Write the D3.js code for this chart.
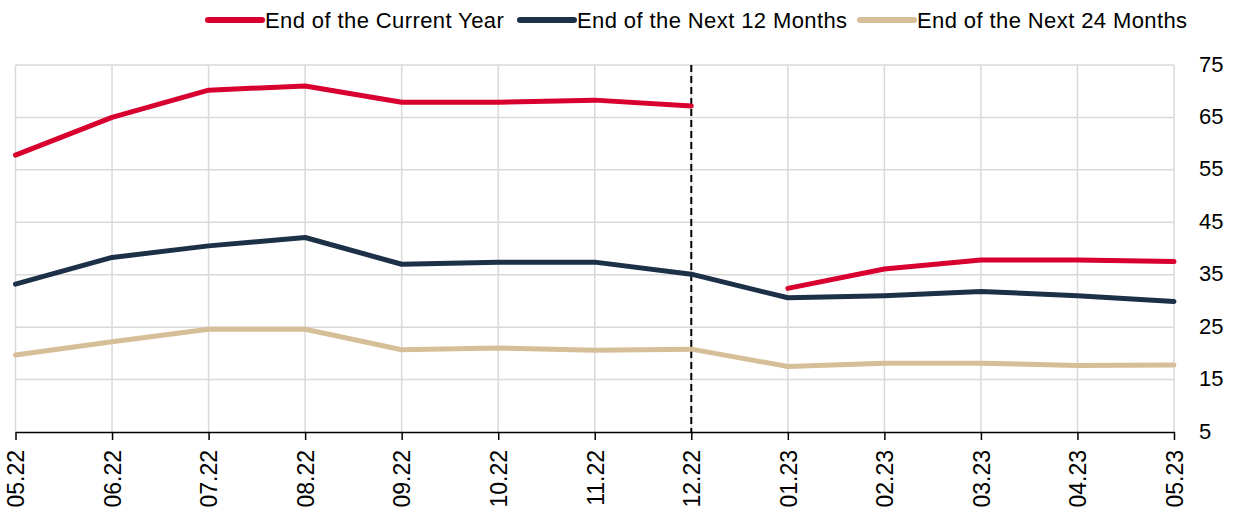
<!DOCTYPE html>
<html>
  <head>
    <title>Expectations</title>
    <script src="https://d3js.org/d3.v7.min.js"></script>
    <style>
      body { margin: 0; background: #fff; }
      text { font-family: "Liberation Sans", Arial, sans-serif; fill: #000; }
    </style>
  </head>
  <body>
    <svg id="chart" width="1236" height="516"></svg>
    <script>
      // data
      var months = ["05.22","06.22","07.22","08.22","09.22","10.22","11.22","12.22","01.23","02.23","03.23","04.23","05.23"];
      var currentYear = [57.8, 65.0, 70.2, 71.0, 67.9, 67.9, 68.3, 67.2, 32.4, 36.1, 37.8, 37.8, 37.5];
      var next12 = [33.2, 38.3, 40.5, 42.1, 37.0, 37.4, 37.4, 35.1, 30.6, 31.0, 31.8, 31.0, 29.9];
      var next24 = [19.7, 22.2, 24.6, 24.6, 20.7, 21.0, 20.6, 20.8, 17.5, 18.1, 18.1, 17.7, 17.8];
      var yTicks = [5, 15, 25, 35, 45, 55, 65, 75];
      var seriesNames = ["End of the Current Year", "End of the Next 12 Months", "End of the Next 24 Months"];
      var colors = ["#d7002f", "#1c3048", "#d6bf98"];
      var breakAfter = "12.22"; // current year series restarts in january

      var svg = d3.select("#chart");
      var plotLeft = 15.5, plotRight = 1174, plotTop = 65, plotBottom = 432;

      var x = d3.scalePoint().domain(months).range([plotLeft, plotRight]);
      var y = d3.scaleLinear().domain([5, 75]).range([plotBottom, plotTop]);

      // grid
      svg.append("g")
        .selectAll("line")
        .data(months)
        .enter().append("line")
        .attr("x1", d => x(d)).attr("x2", d => x(d))
        .attr("y1", plotTop).attr("y2", plotBottom)
        .style("stroke", "#d9d9d9").style("stroke-width", "1.5px");

      svg.append("g")
        .selectAll("line")
        .data(yTicks.filter(d => d > 5))
        .enter().append("line")
        .attr("x1", plotLeft).attr("x2", plotRight)
        .attr("y1", d => y(d)).attr("y2", d => y(d))
        .style("stroke", "#d9d9d9").style("stroke-width", "1.5px");

      // x axis
      var xAxis = svg.append("g")
        .attr("transform", "translate(0," + plotBottom + ")")
        .call(d3.axisBottom(x).tickSize(8).tickSizeOuter(0));
      xAxis.select(".domain").style("stroke", "#000").style("stroke-width", "1.5px");
      xAxis.selectAll(".tick line").style("stroke", "#000").style("stroke-width", "1.5px");
      xAxis.selectAll(".tick text")
        .attr("transform", "rotate(-90)")
        .attr("x", -18).attr("y", 0).attr("dy", "0.36em")
        .style("text-anchor", "end")
        .style("font-size", "23px")
        .style("font-family", "'Liberation Sans', Arial, sans-serif")
        .style("fill", "#000");

      // y axis labels on the right
      var yAxis = svg.append("g")
        .attr("transform", "translate(" + (plotRight + 25) + ",-1)")
        .call(d3.axisRight(y).tickValues(yTicks).tickSize(0).tickPadding(0));
      yAxis.select(".domain").remove();
      yAxis.selectAll(".tick text")
        .style("font-size", "22px")
        .style("font-family", "'Liberation Sans', Arial, sans-serif")
        .style("fill", "#000");

      // dashed marker at year end
      svg.append("line")
        .attr("x1", x(breakAfter)).attr("x2", x(breakAfter))
        .attr("y1", plotTop).attr("y2", plotBottom)
        .style("stroke", "#000").style("stroke-width", "2px")
        .style("stroke-dasharray", "7,4");

      var line = d3.line()
        .x(d => x(d.m))
        .y(d => y(d.v));

      function pts(vals) {
        return vals.map((v, i) => ({ m: months[i], v: v }));
      }

      var cut = months.indexOf(breakAfter) + 1;
      var paths = [
        { pts: pts(next24), c: colors[2] },
        { pts: pts(next12), c: colors[1] },
        { pts: pts(currentYear).slice(0, cut), c: colors[0] },
        { pts: pts(currentYear).slice(cut), c: colors[0] }
      ];

      svg.append("g")
        .selectAll("path")
        .data(paths)
        .enter().append("path")
        .attr("d", d => line(d.pts))
        .style("fill", "none")
        .style("stroke", d => d.c)
        .style("stroke-width", "5px")
        .style("stroke-linejoin", "round")
        .style("stroke-linecap", "round");

      // legend
      var legendX = [208, 520, 860];
      var legend = svg.append("g")
        .selectAll("g")
        .data(seriesNames)
        .enter().append("g")
        .attr("transform", (d, i) => "translate(" + legendX[i] + ",20)");
      legend.append("line")
        .attr("x1", 0).attr("x2", 54)
        .style("stroke", (d, i) => colors[i])
        .style("stroke-width", "6px")
        .style("stroke-linecap", "round");
      legend.append("text")
        .attr("x", 57).attr("dy", "0.36em")
        .style("font-size", "22px")
        .style("letter-spacing", "0.4px")
        .text(d => d);
    </script>
  </body>
</html>
